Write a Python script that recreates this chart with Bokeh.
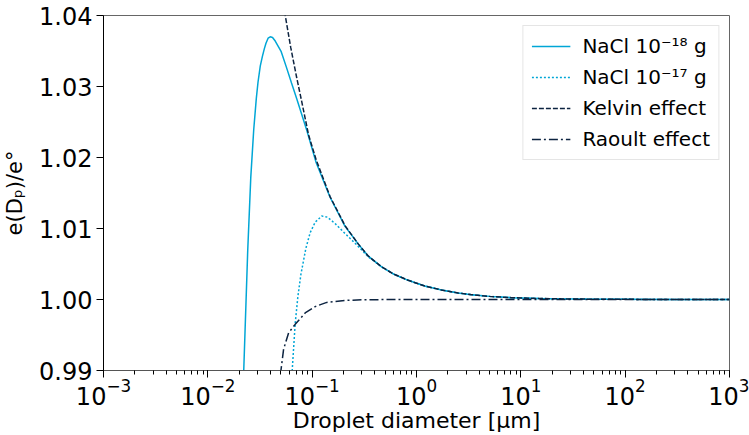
from bokeh.plotting import figure
from bokeh.models import Range1d, FixedTicker, NumeralTickFormatter, Legend, LegendItem, LogTicker
from bokeh.embed import file_html
from bokeh.resources import INLINE

# ---- data (diameter in µm, saturation ratio e(Dp)/e°) ----
d_nacl18 = [0.0213, 0.02209, 0.02413, 0.0258, 0.02753, 0.02914, 0.03026, 0.03183, 0.0333, 0.03477,
            0.03608, 0.0378, 0.03967, 0.0417, 0.04427, 0.05051, 0.05639, 0.0634, 0.07139, 0.08892,
            0.1091, 0.1484, 0.2065, 0.2773, 0.3455, 0.463, 0.6, 0.833, 1.2, 1.733, 2.5, 3.353,
            5.0, 8.08, 15.0, 24.3, 50.0, 100.0, 300.0, 1000.0]
s_nacl18 = [0.983, 0.990, 1.0070, 1.0172, 1.0239, 1.0283, 1.0306, 1.0329, 1.0342, 1.0353,
            1.0361, 1.0368, 1.0370, 1.0369, 1.0364, 1.0349, 1.0328, 1.0305, 1.0282, 1.0238,
            1.0193, 1.0144, 1.0103, 1.0078, 1.0061, 1.0046, 1.0036, 1.0027, 1.0019, 1.00135, 1.00092, 1.00068,
            1.00044, 1.00026, 1.00014, 1.00009, 1.00004, 1.00002, 1.000007, 1.000002]

d_nacl17 = [0.0620, 0.06436, 0.06873, 0.07295, 0.07792, 0.0870, 0.0956, 0.1070, 0.1237,
            0.1400, 0.1657, 0.2065, 0.2671, 0.3455, 0.463, 0.6, 0.833, 1.2, 1.733, 2.5,
            3.353, 5.0, 8.08, 15.0, 24.3, 50.0, 100.0, 300.0, 1000.0]
s_nacl17 = [0.986, 0.990, 0.9966, 1.0004, 1.0035, 1.0072, 1.0094, 1.0109, 1.01175,
            1.0116, 1.0107, 1.0093, 1.0077, 1.0060, 1.0046, 1.0036, 1.0027, 1.0019, 1.00135, 1.00092,
            1.00068, 1.00044, 1.00026, 1.00014, 1.00009, 1.00004, 1.00002, 1.000007, 1.000002]

d_kelvin = [0.050, 0.0552, 0.0623, 0.0712, 0.0791, 0.0923, 0.1091, 0.1484, 0.2065, 0.2773,
            0.3455, 0.463, 0.6, 0.833, 1.2, 1.733, 2.5, 3.353, 5.0, 8.08, 15.0, 24.3, 50.0,
            100.0, 300.0, 1000.0]
s_kelvin = [1.0435, 1.0400, 1.0355, 1.0312, 1.0280, 1.0232, 1.0197, 1.0145, 1.0104, 1.0078,
            1.0061, 1.0046, 1.0036, 1.0027, 1.0019, 1.00135, 1.00092, 1.00068, 1.00044, 1.00026, 1.00014, 1.00009, 1.00004,
            1.00002, 1.000007, 1.000002]

d_raoult = [0.047, 0.05018, 0.05324, 0.05943, 0.06873, 0.08566, 0.1067, 0.138, 0.2065, 0.3,
            0.5, 1.0, 10.0, 100.0, 1000.0]
s_raoult = [0.987, 0.990, 0.9930, 0.9953, 0.9965, 0.9981, 0.9990, 0.99959, 0.99987, 0.99996,
            0.99999, 1.0, 1.0, 1.0, 1.0]

y_ticks = [0.99, 1.00, 1.01, 1.02, 1.03, 1.04]

labels = ["NaCl 10\u207b\u00b9\u2078 g", "NaCl 10\u207b\u00b9\u2077 g", "Kelvin effect", "Raoult effect"]

CYAN = "#00A6D6"
NAVY = "#0C2340"
FONT = "DejaVu Sans"

p = figure(width=749, height=435, x_axis_type="log",
           x_range=Range1d(1e-3, 1e3), y_range=Range1d(0.99, 1.04),
           output_backend="svg", toolbar_location=None,
           min_border_left=101, min_border_right=20, min_border_top=15, min_border_bottom=64)

p.grid.visible = False
p.background_fill_color = "white"
p.border_fill_color = "white"
p.outline_line_color = "#666666"
p.outline_line_width = 1

r1 = p.line(d_nacl18, s_nacl18, line_color=CYAN, line_width=1.5)
r2 = p.line(d_nacl17, s_nacl17, line_color=CYAN, line_width=1.5, line_dash="2 2")
r3 = p.line(d_kelvin, s_kelvin, line_color=NAVY, line_width=1.5, line_dash="5 2")
r4 = p.line(d_raoult, s_raoult, line_color=NAVY, line_width=1.5, line_dash="9 3 2 3")

# axes
p.xaxis.ticker = LogTicker(num_minor_ticks=10)
p.yaxis.ticker = FixedTicker(ticks=y_ticks)
p.yaxis.formatter = NumeralTickFormatter(format="0.00")

for ax in (p.xaxis, p.yaxis):
    ax.major_label_text_font = FONT
    ax.major_label_text_font_size = "24px"
    ax.major_label_text_color = "black"
    ax.axis_label_text_font = FONT
    ax.axis_label_text_font_size = "22px"
    ax.axis_label_text_color = "black"
    ax.major_tick_out = 7
    ax.major_tick_in = 0
    ax.minor_tick_out = 4
    ax.minor_tick_in = 0
    ax.major_tick_line_color = "black"
    ax.minor_tick_line_color = "black"

p.xaxis.major_label_standoff = 0
p.yaxis.major_label_standoff = 4
p.yaxis.minor_tick_line_color = None
p.yaxis.axis_line_color = "black"
p.xaxis.axis_line_color = "#555555"

p.xaxis.axis_label = "Droplet diameter [\u00b5m]"
p.xaxis.axis_label_text_font_style = "normal"
p.xaxis.axis_label_standoff = 0
p.yaxis.axis_label = "e(D\u209a)/e\u00b0"
p.yaxis.axis_label_text_font_style = "normal"
p.yaxis.axis_label_text_font_size = "21px"
p.yaxis.axis_label_standoff = 9

legend = Legend(items=[LegendItem(label=labels[0], renderers=[r1]),
                       LegendItem(label=labels[1], renderers=[r2]),
                       LegendItem(label=labels[2], renderers=[r3]),
                       LegendItem(label=labels[3], renderers=[r4])],
                location="top_right")
legend.label_text_font = FONT
legend.label_text_font_size = "20px"
legend.label_text_color = "black"
legend.glyph_width = 39
legend.glyph_height = 20
legend.label_height = 20
legend.label_standoff = 12
legend.padding = 8
legend.spacing = 7
legend.margin = 10
legend.border_line_color = "#cccccc"
legend.border_line_width = 1
legend.background_fill_alpha = 0.8
p.add_layout(legend)

open("out.html", "w").write(file_html(p, INLINE))
